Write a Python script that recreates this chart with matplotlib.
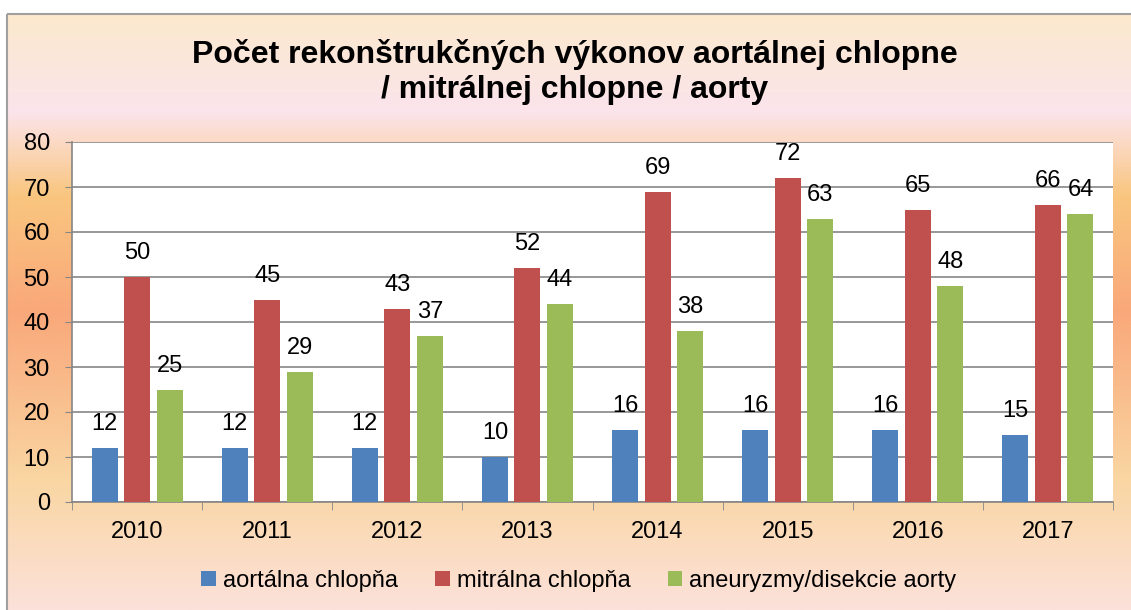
import matplotlib.pyplot as plt
import numpy as np
from matplotlib.colors import LinearSegmentedColormap
from matplotlib.patches import Rectangle

plt.rcParams["font.family"] = ["Liberation Sans", "DejaVu Sans"]

years = ["2010", "2011", "2012", "2013", "2014", "2015", "2016", "2017"]
aortalna = [12, 12, 12, 10, 16, 16, 16, 15]
mitralna = [50, 45, 43, 52, 69, 72, 65, 66]
aneuryzmy = [25, 29, 37, 44, 38, 63, 48, 64]

series = [
    ("aortálna chlopňa", aortalna, "#4F81BD"),
    ("mitrálna chlopňa", mitralna, "#C0504D"),
    ("aneuryzmy/disekcie aorty", aneuryzmy, "#9BBB59"),
]

W, H = 1131, 610
fig = plt.figure(figsize=(W / 100, H / 100), dpi=100)

# background gradient inside the chart frame (stops given top -> bottom in pixels)
stops = [(14, "#FBE9CD"), (110, "#FCE4EC"), (195, "#F9C67F"),
         (310, "#F9A87A"), (390, "#F9BC8C"), (480, "#F9D6A2"), (610, "#FCE1DA")]
pos = [(p - 14) / (610 - 14) for p, _ in stops]
cmap = LinearSegmentedColormap.from_list("bg", list(zip(pos, [c for _, c in stops])))
bg = fig.add_axes([0, 0, 1, 1], zorder=-2)
bg.set_xlim(0, W)
bg.set_ylim(H, 0)
bg.axis("off")
grad = np.linspace(0, 1, 400).reshape(-1, 1)
bg.imshow(grad, cmap=cmap, aspect="auto", extent=(7, W + 5, H, 14), zorder=0)
bg.add_patch(Rectangle((7, 14), W, H, fill=False, edgecolor="#A0A0A0", lw=1.5, zorder=1))

# plot area
left, right, top, bottom = 72, 1113, 142, 502
ax = fig.add_axes([left / W, 1 - bottom / H, (right - left) / W, (bottom - top) / H])
ax.set_facecolor("white")

fs = 17
x = np.arange(len(years))
width = 0.2
offsets = [-0.25, 0, 0.25]
for (label, vals, color), off in zip(series, offsets):
    bars = ax.bar(x + off, vals, width, color=color, label=label, zorder=3)
    for b, v in zip(bars, vals):
        ax.annotate(str(v), (b.get_x() + b.get_width() / 2, v), xytext=(0, 17),
                    textcoords="offset points", ha="center", va="center", fontsize=fs)

ax.set_xlim(-0.5, len(years) - 0.5)
ax.set_ylim(0, 80)
ax.set_yticks(range(0, 81, 10))
ax.tick_params(axis="y", labelsize=fs, length=5, color="#868686", pad=11)
ax.yaxis.grid(True, color="#868686", lw=1.2, zorder=0)
ax.set_xticks(x)
ax.set_xticklabels(years, fontsize=fs)
ax.set_xticks(np.arange(-0.5, len(years)), minor=True)
ax.tick_params(axis="x", which="major", length=0, pad=14)
ax.tick_params(axis="x", which="minor", length=6, color="#868686")
for side in ["top", "right"]:
    ax.spines[side].set_visible(False)
ax.spines["left"].set_color("#868686")
ax.spines["bottom"].set_color("#868686")
ax.spines["left"].set_linewidth(1.2)
ax.spines["bottom"].set_linewidth(1.2)

fig.text(575 / W, 1 - 72 / H, "Počet rekonštrukčných výkonov aortálnej chlopne\n/ mitrálnej chlopne / aorty",
         ha="center", va="center", fontsize=23, fontweight="bold", linespacing=1.25)

fig.legend(loc="center", bbox_to_anchor=(579 / W, 1 - 581 / H), ncol=3, frameon=False,
           fontsize=fs, handlelength=0.6, handleheight=0.6, handletextpad=0.3,
           columnspacing=1.6)

fig.savefig("out.png", dpi=100)
